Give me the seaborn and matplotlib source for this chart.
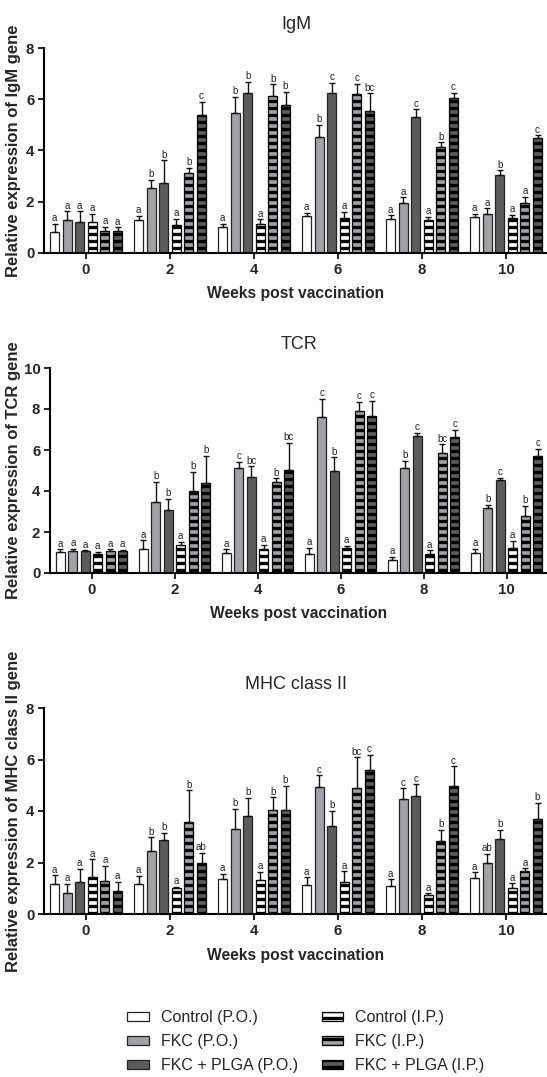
import matplotlib
matplotlib.use("Agg")
import matplotlib.pyplot as plt
from matplotlib.patches import Patch
import seaborn as sns
import pandas as pd

# dpi chosen so the '--' hatch gives ~7 px stripes; K keeps point sizes as if dpi were 100
DPI = 84
K = 100 / DPI

sns.set_theme(style="ticks")
plt.rcParams["font.family"] = ["Liberation Sans", "DejaVu Sans"]
plt.rcParams["hatch.linewidth"] = 2.4 * K

# ---- data ----
weeks = ["0", "2", "4", "6", "8", "10"]
groups = ["Control (P.O.)", "FKC (P.O.)", "FKC + PLGA (P.O.)",
          "Control (I.P.)", "FKC (I.P.)", "FKC + PLGA (I.P.)"]
face_colors = ["#ffffff", "#a2a2a6", "#5c5c5c", "#ffffff", "#a2a2a6", "#5c5c5c"]
hatches = ["", "", "", "--", "--", "--"]

# rows = weeks, columns = groups
igm_mean = [[0.82, 1.30, 1.21, 1.21, 0.87, 0.87],
            [1.30, 2.52, 2.72, 1.09, 3.14, 5.37],
            [1.02, 5.47, 6.25, 1.12, 6.13, 5.78],
            [1.43, 4.53, 6.25, 1.36, 6.20, 5.53],
            [1.32, 1.95, 5.32, 1.28, 4.12, 6.06],
            [1.40, 1.53, 3.05, 1.36, 1.97, 4.47]]
igm_err = [[0.32, 0.32, 0.41, 0.33, 0.15, 0.13],
           [0.15, 0.33, 0.89, 0.23, 0.17, 0.53],
           [0.13, 0.63, 0.44, 0.19, 0.45, 0.51],
           [0.15, 0.48, 0.39, 0.24, 0.41, 0.70],
           [0.15, 0.22, 0.28, 0.13, 0.20, 0.18],
           [0.14, 0.21, 0.18, 0.14, 0.23, 0.12]]
igm_sig = [["a", "a", "a", "a", "a", "a"],
           ["a", "b", "b", "a", "b", "c"],
           ["a", "b", "b", "a", "b", "b"],
           ["a", "b", "c", "a", "c", "bc"],
           ["a", "a", "c", "a", "b", "c"],
           ["a", "a", "b", "a", "a", "c"]]

tcr_mean = [[1.03, 1.07, 1.07, 0.92, 1.05, 1.07],
            [1.16, 3.46, 3.05, 1.38, 3.98, 4.38],
            [0.97, 5.13, 4.67, 1.16, 4.46, 5.03],
            [0.95, 7.59, 4.98, 1.20, 7.89, 7.64],
            [0.64, 5.13, 6.67, 0.93, 5.85, 6.62],
            [0.98, 3.16, 4.54, 1.20, 2.77, 5.69]]
tcr_err = [[0.12, 0.11, 0.04, 0.11, 0.10, 0.06],
           [0.43, 1.00, 0.57, 0.14, 0.94, 1.34],
           [0.18, 0.28, 0.53, 0.20, 0.16, 1.33],
           [0.28, 0.92, 0.66, 0.13, 0.45, 0.77],
           [0.15, 0.35, 0.18, 0.17, 0.43, 0.38],
           [0.20, 0.18, 0.10, 0.36, 0.51, 0.36]]
tcr_sig = [["a", "a", "a", "a", "a", "a"],
           ["a", "b", "b", "a", "b", "b"],
           ["a", "c", "bc", "a", "b", "bc"],
           ["a", "c", "b", "a", "c", "c"],
           ["a", "b", "c", "a", "bc", "c"],
           ["a", "b", "c", "a", "b", "c"]]

mhc_mean = [[1.18, 0.83, 1.26, 1.45, 1.28, 0.89],
            [1.15, 2.45, 2.87, 1.01, 3.59, 1.99],
            [1.36, 3.31, 3.81, 1.33, 4.04, 4.04],
            [1.14, 4.92, 3.42, 1.24, 4.89, 5.59],
            [1.09, 4.45, 4.60, 0.75, 2.83, 4.97],
            [1.40, 1.98, 2.91, 1.00, 1.68, 3.70]]
mhc_err = [[0.32, 0.34, 0.49, 0.67, 0.60, 0.37],
           [0.34, 0.53, 0.28, 0.05, 1.21, 0.38],
           [0.19, 0.77, 0.69, 0.30, 0.49, 0.93],
           [0.28, 0.47, 0.58, 0.42, 1.19, 0.58],
           [0.26, 0.43, 0.44, 0.05, 0.43, 0.76],
           [0.22, 0.35, 0.37, 0.19, 0.09, 0.62]]
mhc_sig = [["a", "a", "a", "a", "a", "a"],
           ["a", "b", "b", "a", "b", "ab"],
           ["a", "b", "b", "a", "b", "b"],
           ["a", "c", "b", "a", "bc", "c"],
           ["a", "c", "c", "a", "b", "c"],
           ["a", "ab", "b", "a", "a", "b"]]

W, H = 547, 1077
fig = plt.figure(figsize=(W / DPI, H / DPI), dpi=DPI)


def px_axes(left, top, bottom, right=548):
    return fig.add_axes([left / W, 1 - bottom / H, (right - left) / W, (bottom - top) / H])


def draw_panel(ax, means, errs, sigs, title, gene, ymax, ylab_px):
    rows = []
    for wi, wk in enumerate(weeks):
        for gi, g in enumerate(groups):
            rows.append({"week": wk, "group": g, "value": means[wi][gi]})
    df = pd.DataFrame(rows)
    sns.barplot(data=df, x="week", y="value", hue="group", order=weeks,
                hue_order=groups, palette=dict(zip(groups, face_colors)),
                saturation=1, width=0.9, gap=0.28, errorbar=None,
                edgecolor="#222222", linewidth=0.9 * K, legend=False, ax=ax)

    bar_sets = list(ax.containers)
    for gi, cont in enumerate(bar_sets):
        for wi, bar in enumerate(cont):
            bar.set_hatch(hatches[gi])
            bar.set_edgecolor("#222222" if gi < 3 else "black")
            x = bar.get_x() + bar.get_width() / 2
            m = means[wi][gi]
            e = errs[wi][gi]
            ax.errorbar(x, m, yerr=[[0], [e]], fmt="none", ecolor="#111111",
                        elinewidth=1.0 * K, capsize=2 * K, capthick=1.0 * K, zorder=1)
            ax.annotate(sigs[wi][gi], (x, m + e), xytext=(0, 0.5 * K),
                        textcoords="offset points", ha="center", va="bottom",
                        fontsize=7 * K, color="#222222")

    ax.set_xlim(-0.5, 5.5)
    ax.set_ylim(0, ymax)
    ax.set_yticks(range(0, ymax + 1, 2))
    ax.set_title(title, fontsize=13 * K, pad=14 * K)
    ax.set_ylabel(f"Relative expression of {gene} gene", fontsize=12 * K, fontweight="bold")
    ax.set_xlabel("Weeks post vaccination", fontsize=11.3 * K, fontweight="bold")
    ax.yaxis.set_label_coords(-ylab_px / ax.bbox.width, 0.5)
    ax.xaxis.set_label_coords(0.5, -0.163)
    for lab in ax.get_xticklabels() + ax.get_yticklabels():
        lab.set_fontweight("bold")
    ax.tick_params(axis="both", labelsize=10.8 * K, length=4 * K, width=1.2 * K,
                   pad=3 * K, color="black")
    sns.despine(ax=ax)
    for s in ["left", "bottom"]:
        ax.spines[s].set_linewidth(1.5 * K)
        ax.spines[s].set_color("black")


ax1 = px_axes(44, 48, 253)
draw_panel(ax1, igm_mean, igm_err, igm_sig, "IgM", "IgM", 8, 23)
ax2 = px_axes(50, 368, 573)
draw_panel(ax2, tcr_mean, tcr_err, tcr_sig, "TCR", "TCR", 10, 29)
ax3 = px_axes(44, 708, 914)
draw_panel(ax3, mhc_mean, mhc_err, mhc_sig, "MHC class II", "MHC class II", 8, 23)

handles = [Patch(facecolor=c, edgecolor="#222222" if i < 3 else "black",
                 hatch=h, linewidth=0.9 * K)
           for i, (c, h) in enumerate(zip(face_colors, hatches))]
fig.legend(handles, groups, ncol=2, loc="upper left",
           bbox_to_anchor=(127 / W, 1 - 1010 / H), frameon=False,
           fontsize=11.5 * K, handlelength=1.35, handleheight=0.45,
           handletextpad=0.75, columnspacing=1.5, labelspacing=0.57,
           borderpad=0, borderaxespad=0)

fig.savefig("out.png", dpi=DPI)
